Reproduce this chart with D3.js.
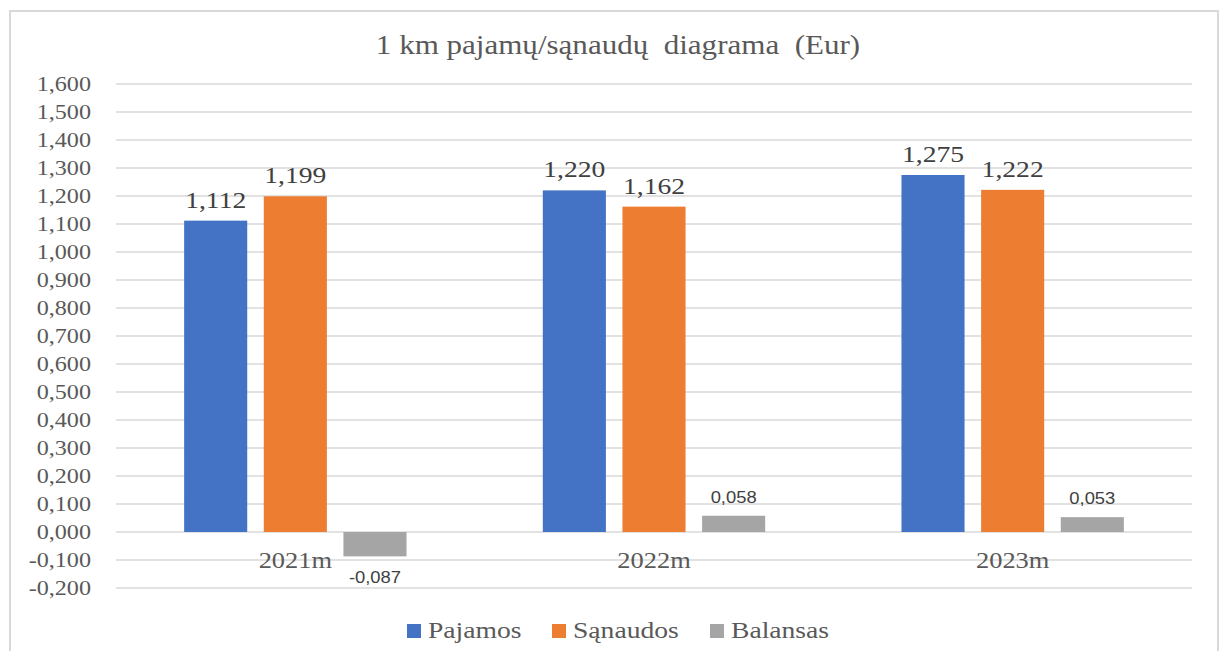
<!DOCTYPE html>
<meta charset="utf-8">
<style>
body { margin: 0; background: #fff; }
text { font-family: "Liberation Serif", "Times New Roman", serif; }
.grid line { stroke: #d9d9d9; stroke-width: 1.5px; }
</style>
<svg width="1221" height="651"></svg>
<script src="https://d3js.org/d3.v7.min.js"></script>
<script>
// data
var years = ["2021m", "2022m", "2023m"];
var series = ["Pajamos", "Sąnaudos", "Balansas"];
var pajamos = [1.112, 1.220, 1.275];
var sanaudos = [1.199, 1.162, 1.222];
var balansas = [-0.087, 0.058, 0.053];
var yTicks = [-0.2, -0.1, 0, 0.1, 0.2, 0.3, 0.4, 0.5, 0.6, 0.7, 0.8, 0.9, 1.0, 1.1, 1.2, 1.3, 1.4, 1.5, 1.6];
var colors = ["#4472C4", "#ED7D31", "#A5A5A5"];

var values = [pajamos, sanaudos, balansas];
var sx = 1.15; // text in the picture is stretched sideways a bit

var svg = d3.select("svg");

// outer frame
svg.append("rect").attr("x", 10).attr("y", 11).attr("width", 1208).attr("height", 660)
    .attr("fill", "#fff").attr("stroke", "#d9d9d9").attr("stroke-width", 2);

var x0 = d3.scaleBand().domain(years).range([116, 1192]).padding(0);
var bw = x0.bandwidth();
var x1 = d3.scaleBand().domain(series).range([bw * 0.19, bw * 0.81]).paddingInner(0.208);
var y = d3.scaleLinear().domain([-0.2, 1.6]).range([588, 84]);

// comma as decimal mark: 1,112
function fmtNum(v) {
    return d3.format(".3f")(v).replace("−", "-").replace(".", ",");
}

function txt(g, x, yy, s, size, color, anchor, family) {
    return g.append("text")
        .attr("transform", "translate(" + x + "," + yy + ") scale(" + sx + ",1)")
        .attr("text-anchor", anchor || "middle")
        .style("font-size", size + "px")
        .style("fill", color)
        .style("font-family", family || null)
        .text(s);
}

// gridlines
svg.append("g").attr("class", "grid")
    .selectAll("line").data(yTicks).enter().append("line")
    .attr("x1", 116).attr("x2", 1192)
    .attr("y1", function(d) { return y(d); })
    .attr("y2", function(d) { return y(d); });

// y tick labels
yTicks.forEach(function(t) {
    txt(svg, 91, y(t) + 7, fmtNum(t), 21, "#595959", "end");
});

// bars
var groups = svg.selectAll(".yr").data(years).enter().append("g")
    .attr("class", "yr")
    .attr("transform", function(d) { return "translate(" + x0(d) + ",0)"; });

series.forEach(function(s, si) {
    groups.append("rect")
        .attr("x", x1(s))
        .attr("width", x1.bandwidth())
        .attr("y", function(d, i) { return y(Math.max(0, values[si][i])); })
        .attr("height", function(d, i) { return Math.abs(y(values[si][i]) - y(0)); })
        .attr("fill", colors[si]);
});

// value labels
years.forEach(function(yr, i) {
    series.forEach(function(s, si) {
        var v = values[si][i];
        var cx = x0(yr) + x1(s) + x1.bandwidth() / 2;
        if (si < 2) {
            txt(svg, cx, y(v) - 13, fmtNum(v), 24, "#404040");
        } else if (v >= 0) {
            txt(svg, cx, y(v) - 13, fmtNum(v), 16, "#404040", "middle", "'Liberation Sans', Arial, sans-serif");
        } else {
            txt(svg, cx, y(v) + 27, fmtNum(v), 16, "#404040", "middle", "'Liberation Sans', Arial, sans-serif");
        }
    });
    // category label
    txt(svg, x0(yr) + bw / 2, 568, yr, 23, "#595959");
});

// title
txt(svg, 618, 54, "1 km pajamų/sąnaudų  diagrama  (Eur)", 27, "#595959").style("white-space", "pre");

// legend
var legX = [407, 552, 710];
series.forEach(function(s, si) {
    svg.append("rect").attr("x", legX[si]).attr("y", 624).attr("width", 14).attr("height", 14)
        .attr("fill", colors[si]);
    txt(svg, legX[si] + 21, 638, s, 24, "#595959", "start");
});
</script>
